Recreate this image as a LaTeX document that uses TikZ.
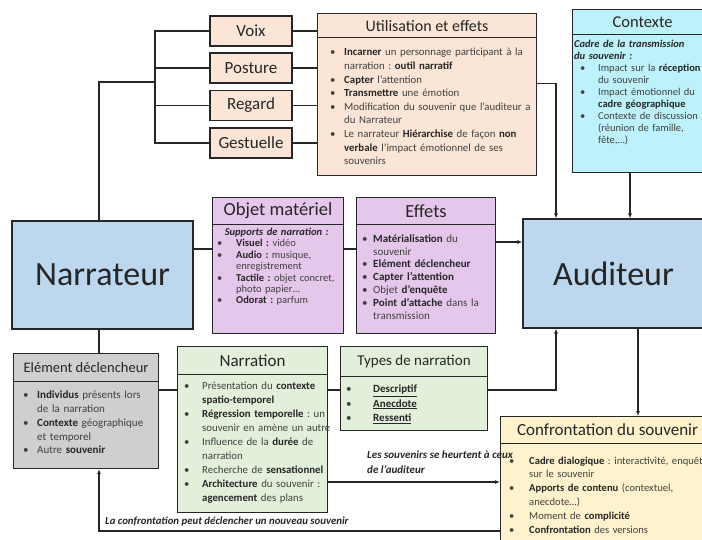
\documentclass[tikz,border=0pt]{standalone}
\usepackage{fontspec}
\setmainfont{Carlito}
\usetikzlibrary{arrows.meta}
\definecolor{ink}{RGB}{38,38,38}
\definecolor{txt}{RGB}{64,64,64}
\definecolor{peach}{RGB}{251,229,214}
\definecolor{cyanlt}{RGB}{189,242,252}
\definecolor{blu}{RGB}{189,215,238}
\definecolor{lila}{RGB}{229,199,235}
\definecolor{grey}{RGB}{208,206,206}
\definecolor{vert}{RGB}{226,239,218}
\definecolor{jaune}{RGB}{255,242,204}
\frenchspacing
\newlength\bulo
\newlength\bult
\newcommand\bulset[2]{\setlength\bulo{#1pt}\setlength\bult{#2pt}}
\newcommand\itm{\par\noindent\hangindent=\bult\hangafter=1\hbox to\bult{\hskip\bulo\textbullet\hfil}\ignorespaces}
\newcommand\hb[1]{\textbf{\color{ink}#1}}
\newcommand\fs[2]{\fontsize{#1}{#2}\selectfont}
\begin{document}
\begin{tikzpicture}[x=1pt,y=-1pt,
  box/.style={draw=ink,line width=1.1pt,inner sep=0pt,text=ink},
  title/.style={box,anchor=north west},
  body/.style={anchor=north west,inner sep=0pt,align=left,text=txt},
  link/.style={draw=ink,line width=1.1pt},
  arr/.style={link,-{Latex[length=5pt,width=4pt]}},
  note/.style={anchor=north west,inner sep=0pt,align=left,text=ink,font=\fs{11}{15}\bfseries\itshape}]
\useasboundingbox (0,0) rectangle (702,539);

% help points for the bends
\coordinate (spine) at (99,0);
\coordinate (brk) at (155,82);
\coordinate (aL) at (556,0);
\coordinate (aC) at (630,0);
\coordinate (aR) at (638,0);
\coordinate (midrow) at (0,249);
\coordinate (effOut) at (0,242);
\coordinate (lowrow) at (0,390);
\coordinate (hitrow) at (0,482);
\coordinate (backrow) at (0,531);

\node (narr) [box,fill=blu,minimum width=181,minimum height=108,font=\fs{34}{34}] at (102.5,275) {Narrateur};
\node (audit) [box,fill=blu,minimum width=181,minimum height=109,font=\fs{34}{34}] at (613.5,273.5) {Auditeur};

% utilisation et effets
\node (util) [box,fill=peach,anchor=north west,minimum width=219,minimum height=162] at (317,13) {};
\node (utilT) [title,fill=peach,minimum width=219,minimum height=24,font=\fs{16}{16}] at (util.north west) {Utilisation et effets};
\node (utilB) [body,text width=217,font=\fs{10.8}{13.6}] at (317,42) {\bulset{13}{27}%
\itm \hb{Incarner} un personnage participant à la\newline narration : \hb{outil narratif}
\itm \hb{Capter} l’attention
\itm \hb{Transmettre} une émotion
\itm Modification du souvenir que l’auditeur a\newline du Narrateur
\itm Le narrateur \hb{Hiérarchise} de façon \hb{non}\newline \hb{verbale} l’impact émotionnel de ses\newline souvenirs\par};

\foreach \nm/\txt/\y in {voix/Voix/31,post/Posture/68,reg/Regard/105.5,gest/Gestuelle/143}
  {
  \node (\nm) [box,fill=peach,minimum width=82,minimum height=30,font=\fs{17}{17}] at (251,\y) {\txt};
  \draw[link] (brk) |- (\nm.west);
  \draw[link] (\nm.east) -- (\nm.east -| util.west);
  }

% contexte
\node (ctx) [box,fill=cyanlt,anchor=north west,minimum width=140,minimum height=163] at (572,9) {};
\node (ctxT) [title,fill=cyanlt,minimum width=140,minimum height=25,font=\fs{16.5}{16.5}] at (ctx.north west) {Contexte};
\node (ctxB) [body,text width=138,font=\fs{10.5}{12}] at (574,40) {\bulset{6}{24}%
\noindent\textbf{\textit{\color{ink}Cadre de la transmission\newline du souvenir :}}
\itm Impact sur la \hb{réception}\newline du souvenir
\itm Impact émotionnel du\newline \hb{cadre géographique}
\itm Contexte de discussion\newline (réunion de famille,\newline fête,…)\par};

% objet materiel et effets
\node (obj) [box,fill=lila,anchor=north west,minimum width=131,minimum height=136] at (212,197) {};
\node (objT) [title,fill=lila,minimum width=131,minimum height=27,font=\fs{18.5}{18.5}] at (obj.north west) {Objet matériel};
\node (objB) [body,text width=129,font=\fs{10.5}{11.4}] at (212,228) {\bulset{5}{24}%
{\centering\textbf{\textit{\color{ink}Supports de narration :}}\par}
\itm \hb{Visuel :} vidéo
\itm \hb{Audio :} musique,\newline enregistrement
\itm \hb{Tactile :} objet concret,\newline photo papier…
\itm \hb{Odorat :} parfum\par};

\node (eff) [box,fill=lila,anchor=north west,minimum width=139,minimum height=136] at (356,197) {};
\node (effT) [title,fill=lila,minimum width=139,minimum height=27,font=\fs{18.5}{18.5}] at (eff.north west) {Effets};
\node (effB) [body,text width=137,font=\fs{11}{12.9}] at (356,229) {\bulset{6}{17}%
\itm \hb{Matérialisation} du\newline souvenir
\itm \hb{Elément déclencheur}
\itm \hb{Capter l’attention}
\itm Objet \hb{d’enquête}
\itm \hb{Point d’attache} dans la\newline transmission\par};

% element declencheur
\node (elem) [box,fill=grey,anchor=north west,minimum width=145,minimum height=115] at (13,353) {};
\node (elemT) [title,fill=grey,minimum width=145,minimum height=28,font=\fs{14.5}{14.5}] at (elem.north west) {Elément déclencheur};
\node (elemB) [body,text width=143,font=\fs{11}{13.7}] at (13,385) {\bulset{10}{24}%
\itm \hb{Individus} présents lors\newline de la narration
\itm \hb{Contexte} géographique\newline et temporel
\itm Autre \hb{souvenir}\par};

% narration
\node (narr2) [box,fill=vert,anchor=north west,minimum width=150,minimum height=166] at (177,346) {};
\node (narr2T) [title,fill=vert,minimum width=150,minimum height=28,font=\fs{17}{17}] at (narr2.north west) {Narration};
\node (narr2B) [body,text width=160,font=\fs{10.8}{14}] at (177,375) {\bulset{7}{25}%
\itm Présentation du \hb{contexte}\newline \hb{spatio-temporel}
\itm \hb{Régression temporelle} : un\newline souvenir en amène un autre
\itm Influence de la \hb{durée} de\newline narration
\itm Recherche de \hb{sensationnel}
\itm \hb{Architecture} du souvenir :\newline \hb{agencement} des plans\par};

\node (types) [box,fill=vert,anchor=north west,minimum width=147,minimum height=84] at (340,346) {};
\node (typesT) [title,fill=vert,minimum width=147,minimum height=30,font=\fs{15}{15}] at (types.north west) {Types de narration};
\node (typesB) [body,text width=145,font=\fs{11}{14.5}] at (340,378) {\bulset{6}{33}%
\itm \hb{\underline{Descriptif}}
\itm \hb{\underline{Anecdote}}
\itm \hb{\underline{Ressenti}}\par};

% confrontation
\node (conf) [box,fill=jaune,anchor=north west,minimum width=214,minimum height=130] at (500,416) {};
\node (confT) [title,fill=jaune,minimum width=214,minimum height=27,font=\fs{17}{17}] at (conf.north west) {Confrontation du souvenir};
\node (confB) [body,text width=250,font=\fs{10.6}{13.8}] at (500,450) {\bulset{9}{29}%
\itm \hb{Cadre dialogique} : interactivité, enquête\newline sur le souvenir
\itm \hb{Apports de contenu} (contextuel,\newline anecdote…)
\itm Moment de \hb{complicité}
\itm \hb{Confrontation} des versions\par};

\node (lblHeurt) [note] at (367,451) {Les souvenirs se heurtent à ceux\\de l’auditeur};
\node (lblDecl) [note,font=\fs{10.8}{15}\bfseries\itshape] at (105,517) {La confrontation peut déclencher un nouveau souvenir};

% connectors
\draw[link] (spine |- narr.north) |- (brk);
\draw[arr] ([yshift=11pt]util.east) -| (aL |- audit.north);
\draw[arr] (aC |- ctx.south) -- (aC |- audit.north);
\draw[link] (narr.east |- midrow) -- (obj.west |- midrow);
\draw[link] (obj.east |- midrow) -- (eff.west |- midrow);
\draw[arr] (eff.east |- effOut) -- (audit.west |- effOut);
\draw[link] (spine |- narr.south) -- (spine |- elem.north);
\draw[link] (elem.east |- lowrow) -- (narr2.west |- lowrow);
\draw[link] (narr2.east |- lowrow) -- (types.west |- lowrow);
\draw[arr] (types.east |- lowrow) -| (aL |- audit.south);
\draw[arr] (aR |- audit.south) -- (aR |- conf.north);
\draw[arr] (narr2.east |- hitrow) -- (conf.west |- hitrow);
\draw[arr] (conf.west |- backrow) -| (spine |- elem.south);

\end{tikzpicture}
\end{document}
